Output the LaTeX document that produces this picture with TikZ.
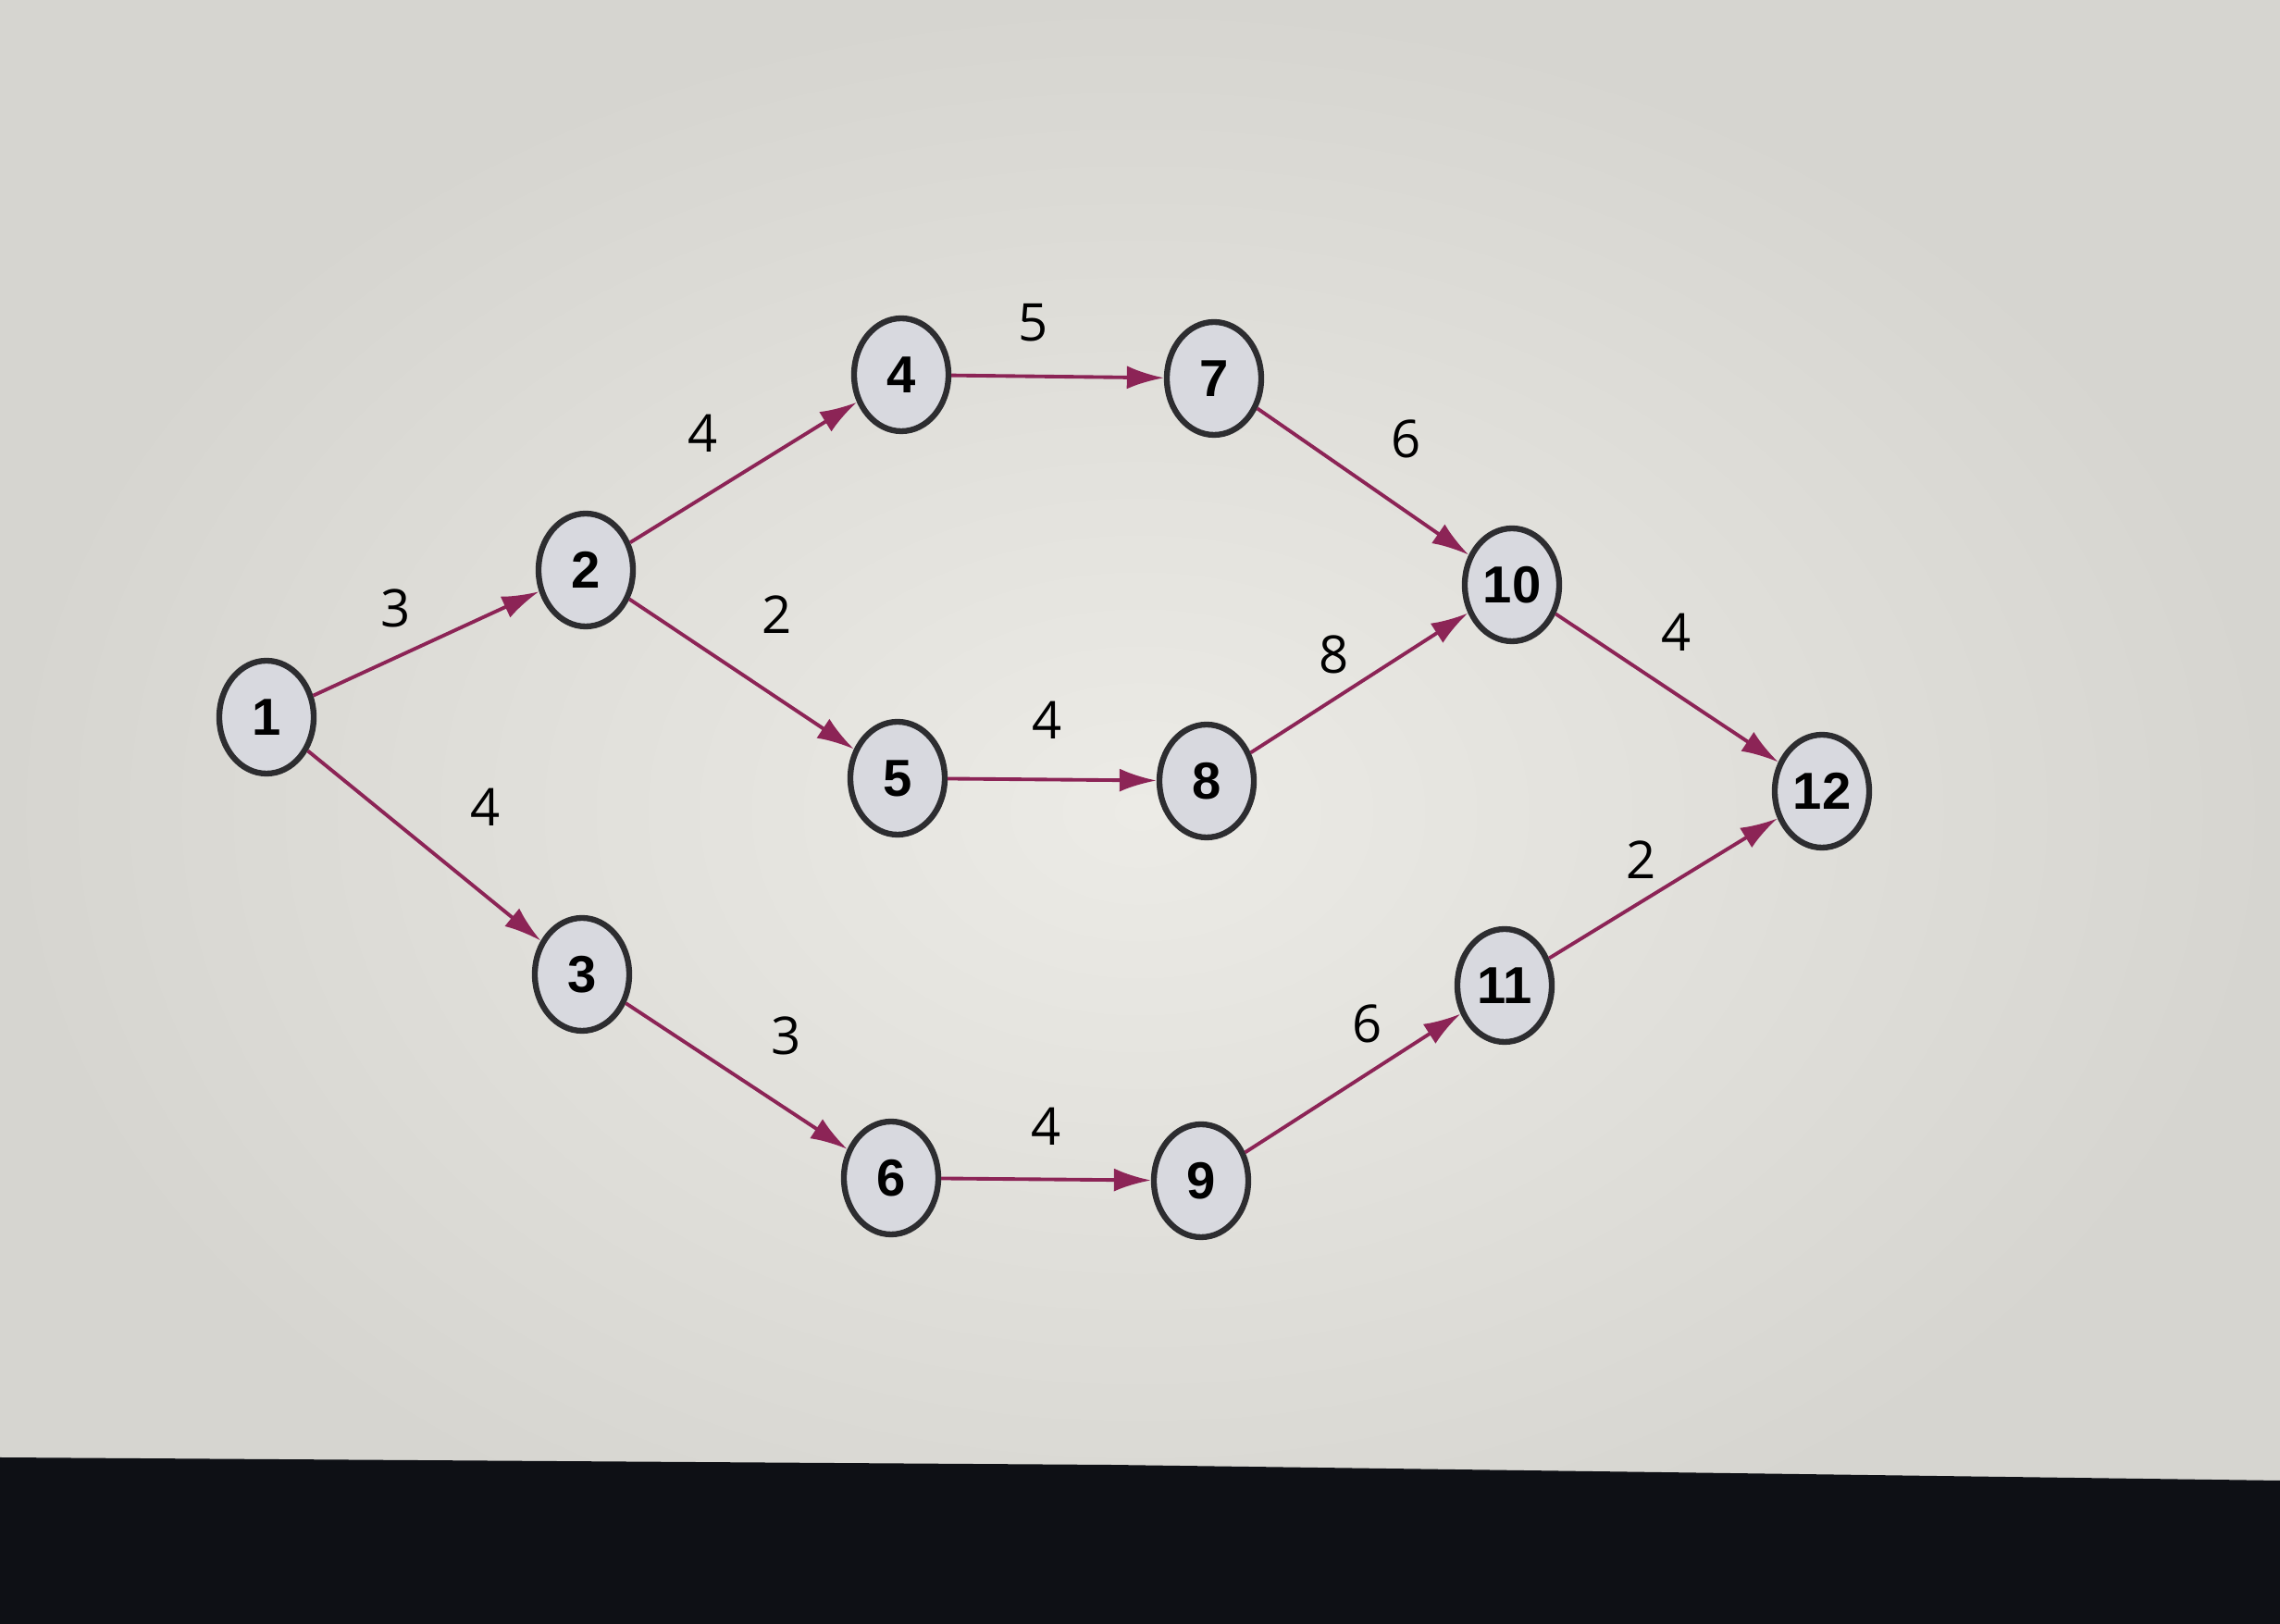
\documentclass[tikz,border=0pt]{standalone}
\usepackage{fontspec}
\setmainfont{Open Sans}
\newfontfamily\nodefont{Liberation Sans}
\usetikzlibrary{shapes.geometric,arrows.meta}
\definecolor{arccol}{RGB}{140,36,86}
\definecolor{evfill}{RGB}{216,217,223}
\definecolor{evline}{RGB}{45,45,48}
\definecolor{paper}{RGB}{236,235,230}
\definecolor{paperedge}{RGB}{214,213,208}
\definecolor{bezel}{RGB}{14,16,21}

\begin{document}
\begin{tikzpicture}[
  event/.style={ellipse,draw=evline,line width=1.8pt,fill=evfill,
    minimum width=1.02cm,minimum height=1.22cm,inner sep=0pt,
    font=\nodefont\bfseries\fontsize{16}{18}\selectfont},
  arc/.style={arccol,line width=1.1pt,-{Latex[length=4mm,width=2.5mm]}},
  weight/.style={midway,text=black,font=\fontsize{16}{19}\selectfont}]

  % screen and bezel
  \useasboundingbox (0,0) rectangle (24.64,17.55);
  \shade[inner color=paper,outer color=paperedge]
  (0,0) rectangle (24.64,17.55);
  \fill[bezel] (0,0) -- (0,1.80) -- (12.0,1.72) -- (24.64,1.55) -- (24.64,0) -- cycle;

  % events
  \node[event] (e1)  at ( 2.88, 9.80) {1};
  \node[event] (e2)  at ( 6.33,11.39) {2};
  \node[event] (e3)  at ( 6.29, 7.02) {3};
  \node[event] (e4)  at ( 9.74,13.50) {4};
  \node[event] (e5)  at ( 9.70, 9.14) {5};
  \node[event] (e6)  at ( 9.63, 4.82) {6};
  \node[event] (e7)  at (13.12,13.46) {7};
  \node[event] (e8)  at (13.04, 9.11) {8};
  \node[event] (e9)  at (12.98, 4.79) {9};
  \node[event] (e10) at (16.34,11.23) {10};
  \node[event] (e11) at (16.26, 6.90) {11};
  \node[event] (e12) at (19.69, 9.00) {12};

  % activities with durations
  \draw[arc] (e1)  -- node[weight,xshift=-0.33cm,yshift=0.38cm] {3} (e2);
  \draw[arc] (e1)  -- node[weight,xshift= 0.66cm,yshift=0.42cm] {4} (e3);
  \draw[arc] (e2)  -- node[weight,xshift=-0.44cm,yshift=0.42cm] {4} (e4);
  \draw[arc] (e2)  -- node[weight,xshift= 0.38cm,yshift=0.64cm] {2} (e5);
  \draw[arc] (e3)  -- node[weight,xshift= 0.54cm,yshift=0.44cm] {3} (e6);
  \draw[arc] (e4)  -- node[weight,xshift=-0.26cm,yshift=0.58cm] {5} (e7);
  \draw[arc] (e5)  -- node[weight,xshift=-0.05cm,yshift=0.64cm] {4} (e8);
  \draw[arc] (e6)  -- node[weight,xshift= 0.00cm,yshift=0.57cm] {4} (e9);
  \draw[arc] (e7)  -- node[weight,xshift= 0.47cm,yshift=0.46cm] {6} (e10);
  \draw[arc] (e8)  -- node[weight,xshift=-0.27cm,yshift=0.31cm] {8} (e10);
  \draw[arc] (e9)  -- node[weight,xshift= 0.16cm,yshift=0.64cm] {6} (e11);
  \draw[arc] (e10) -- node[weight,xshift= 0.10cm,yshift=0.60cm] {4} (e12);
  \draw[arc] (e11) -- node[weight,xshift=-0.24cm,yshift=0.31cm] {2} (e12);

\end{tikzpicture}
\end{document}
